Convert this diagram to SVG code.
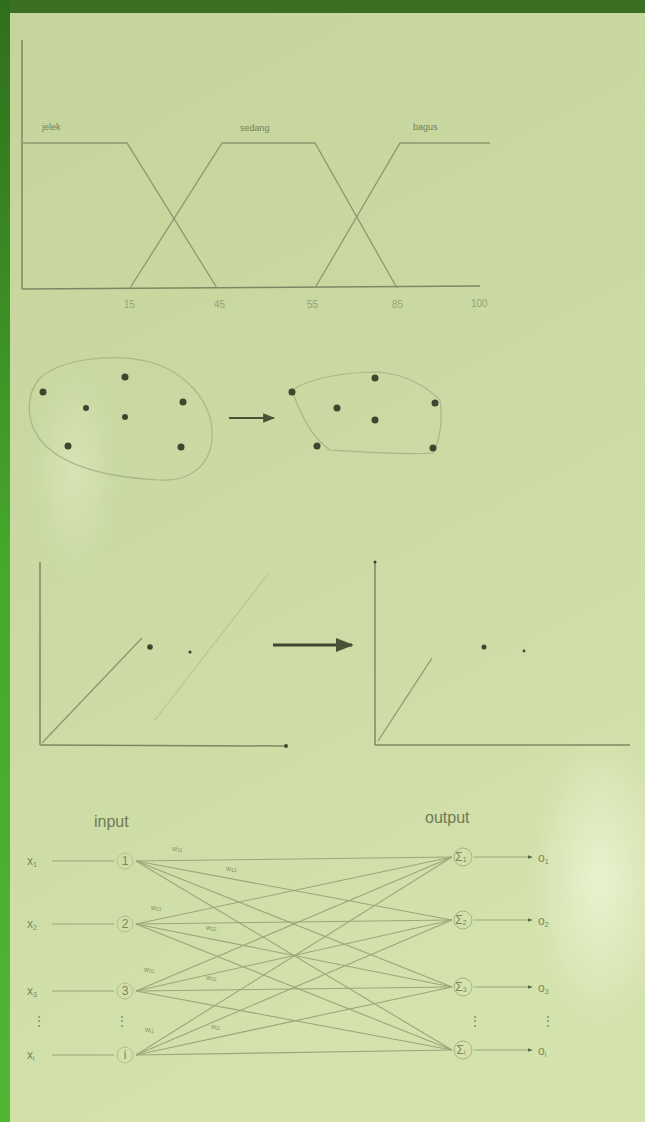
<svg xmlns="http://www.w3.org/2000/svg" width="645" height="1122" viewBox="0 0 645 1122">
<defs>
<linearGradient id="paper" x1="0" y1="0" x2="0.3" y2="1">
<stop offset="0" stop-color="#c4d49b"/>
<stop offset="0.5" stop-color="#cadaa2"/>
<stop offset="1" stop-color="#d4e2ac"/>
</linearGradient>
<radialGradient id="glare" cx="0.5" cy="0.5" r="0.5">
<stop offset="0" stop-color="#eef6d8" stop-opacity="0.8"/>
<stop offset="1" stop-color="#eef6d8" stop-opacity="0"/>
</radialGradient>
<linearGradient id="leftband" x1="0" y1="0" x2="0" y2="1">
<stop offset="0" stop-color="#2f6f1c"/>
<stop offset="0.5" stop-color="#46a82c"/>
<stop offset="1" stop-color="#52b534"/>
</linearGradient>
<marker id="tip" viewBox="0 0 10 10" refX="9" refY="5" markerWidth="6" markerHeight="6" orient="auto">
<path d="M0,1 L10,5 L0,9 Z" fill="#4a5236"/>
</marker>
<marker id="tipSmall" viewBox="0 0 10 10" refX="9" refY="5" markerWidth="4" markerHeight="4" orient="auto">
<path d="M0,1 L10,5 L0,9 Z" fill="#5a6344"/>
</marker>
</defs>
<style>
.ln{stroke:#8d9870;stroke-width:1.3;fill:none}
.ax{stroke:#7d8862;stroke-width:1.5;fill:none}
.faint{stroke:#a9b78a;stroke-width:1.2;fill:none}
.lbl{font-family:"Liberation Sans",Arial,sans-serif;fill:#757f5a;font-size:9px}
.num{font-family:"Liberation Sans",Arial,sans-serif;fill:#97a37a;font-size:10px}
.hd{font-family:"Liberation Sans",Arial,sans-serif;fill:#6f7a55;font-size:16px}
.nn{font-family:"Liberation Sans",Arial,sans-serif;fill:#7c8760;font-size:12px}
.w{font-family:"Liberation Sans",Arial,sans-serif;fill:#8a9468;font-size:7px}
.dot{fill:#3f4630}
.conn{stroke:#9aa67c;stroke-width:1.1;fill:none}
</style>
<rect x="0" y="0" width="645" height="1122" fill="url(#paper)"/>
<ellipse cx="600" cy="880" rx="70" ry="150" fill="url(#glare)"/>
<ellipse cx="75" cy="470" rx="45" ry="110" fill="url(#glare)" opacity="0.45"/>
<rect x="0" y="0" width="645" height="13" fill="#3a6e22"/>
<rect x="0" y="0" width="10" height="1122" fill="url(#leftband)"/>

<g id="fuzzy-chart">
<line class="ax" x1="22" y1="40" x2="22" y2="289"/>
<line class="ax" x1="22" y1="289" x2="480" y2="286"/>
<polyline class="ln" points="22,143 127,143 217,288"/>
<polyline class="ln" points="130,288 222,143 315,143 397,288"/>
<polyline class="ln" points="315,288 400,143 490,143"/>
<text class="lbl" x="42" y="130">jelek</text>
<text class="lbl" x="240" y="131">sedang</text>
<text class="lbl" x="413" y="130">bagus</text>
<text class="num" x="124" y="308">15</text>
<text class="num" x="214" y="308">45</text>
<text class="num" x="307" y="308">55</text>
<text class="num" x="392" y="308">85</text>
<text class="num" x="471" y="307">100</text>
</g>

<g id="cluster-before">
<path class="faint" d="M40,378 C60,360 110,352 150,362 C185,372 210,400 212,430 C214,465 190,482 160,480 C120,478 70,470 45,445 C25,425 25,395 40,378 Z"/>
<circle class="dot" cx="43" cy="392" r="3.5"/>
<circle class="dot" cx="86" cy="408" r="3"/>
<circle class="dot" cx="125" cy="377" r="3.5"/>
<circle class="dot" cx="125" cy="417" r="3"/>
<circle class="dot" cx="183" cy="402" r="3.5"/>
<circle class="dot" cx="68" cy="446" r="3.5"/>
<circle class="dot" cx="181" cy="447" r="3.5"/>
</g>
<g id="cluster-after">
<path class="faint" d="M292,390 C310,378 345,372 380,372 C405,375 425,385 440,400 C443,420 440,440 433,453 C400,455 360,452 330,450 C315,440 302,420 292,390 Z"/>
<circle class="dot" cx="292" cy="392" r="3.5"/>
<circle class="dot" cx="337" cy="408" r="3.5"/>
<circle class="dot" cx="375" cy="378" r="3.5"/>
<circle class="dot" cx="375" cy="420" r="3.5"/>
<circle class="dot" cx="435" cy="403" r="3.5"/>
<circle class="dot" cx="317" cy="446" r="3.5"/>
<circle class="dot" cx="433" cy="448" r="3.5"/>
</g>

<g id="plot-before">
<line class="ax" x1="40" y1="562" x2="40" y2="745"/>
<line class="ax" x1="40" y1="745" x2="286" y2="746"/>
<circle class="dot" cx="286" cy="746" r="2"/>
<line class="ln" x1="42" y1="743" x2="142" y2="638"/>
<line class="faint" x1="155" y1="720" x2="268" y2="574" opacity="0.6"/>
<circle class="dot" cx="150" cy="647" r="2.8"/>
<circle class="dot" cx="190" cy="652" r="1.6"/>
</g>
<g id="plot-after">
<line class="ax" x1="375" y1="562" x2="375" y2="745"/>
<circle class="dot" cx="375" cy="562" r="1.5"/>
<line class="ax" x1="375" y1="745" x2="630" y2="745"/>
<line class="ln" x1="378" y1="741" x2="432" y2="658"/>
<circle class="dot" cx="484" cy="647" r="2.5"/>
<circle class="dot" cx="524" cy="651" r="1.4"/>
</g>

<g id="connectors">
<line x1="229" y1="418" x2="274" y2="418" stroke="#4a5236" stroke-width="2" marker-end="url(#tip)"/>
<line x1="273" y1="645" x2="352" y2="645" stroke="#3f4630" stroke-width="3" marker-end="url(#tip)"/>
<line class="conn" x1="52" y1="861" x2="114" y2="861"/>
<line class="conn" x1="52" y1="924" x2="114" y2="924"/>
<line class="conn" x1="52" y1="991" x2="114" y2="991"/>
<line class="conn" x1="52" y1="1055" x2="114" y2="1055"/>
<g class="conn">
<line x1="136" y1="861" x2="452" y2="857"/>
<line x1="136" y1="861" x2="452" y2="920"/>
<line x1="136" y1="861" x2="452" y2="987"/>
<line x1="136" y1="861" x2="452" y2="1050"/>
<line x1="136" y1="924" x2="452" y2="857"/>
<line x1="136" y1="924" x2="452" y2="920"/>
<line x1="136" y1="924" x2="452" y2="987"/>
<line x1="136" y1="924" x2="452" y2="1050"/>
<line x1="136" y1="991" x2="452" y2="857"/>
<line x1="136" y1="991" x2="452" y2="920"/>
<line x1="136" y1="991" x2="452" y2="987"/>
<line x1="136" y1="991" x2="452" y2="1050"/>
<line x1="136" y1="1055" x2="452" y2="857"/>
<line x1="136" y1="1055" x2="452" y2="920"/>
<line x1="136" y1="1055" x2="452" y2="987"/>
<line x1="136" y1="1055" x2="452" y2="1050"/>
</g>
<line class="conn" x1="474" y1="857" x2="532" y2="857" marker-end="url(#tipSmall)"/>
<line class="conn" x1="474" y1="920" x2="532" y2="920" marker-end="url(#tipSmall)"/>
<line class="conn" x1="474" y1="987" x2="532" y2="987" marker-end="url(#tipSmall)"/>
<line class="conn" x1="474" y1="1050" x2="532" y2="1050" marker-end="url(#tipSmall)"/>
<text class="w" x="172" y="851">w<tspan font-size="5" dy="1">11</tspan></text>
<text class="w" x="226" y="871">w<tspan font-size="5" dy="1">12</tspan></text>
<text class="w" x="151" y="910">w<tspan font-size="5" dy="1">21</tspan></text>
<text class="w" x="206" y="930">w<tspan font-size="5" dy="1">22</tspan></text>
<text class="w" x="144" y="972">w<tspan font-size="5" dy="1">31</tspan></text>
<text class="w" x="206" y="980">w<tspan font-size="5" dy="1">32</tspan></text>
<text class="w" x="145" y="1032">w<tspan font-size="5" dy="1">i1</tspan></text>
<text class="w" x="211" y="1029">w<tspan font-size="5" dy="1">i2</tspan></text>
</g>

<text class="hd" x="94" y="827">input</text>
<text class="hd" x="425" y="823">output</text>

<g id="x1"><text class="nn" x="27" y="865">x<tspan font-size="7" dy="2">1</tspan></text></g>
<g id="x2"><text class="nn" x="27" y="928">x<tspan font-size="7" dy="2">2</tspan></text></g>
<g id="x3"><text class="nn" x="27" y="995">x<tspan font-size="7" dy="2">3</tspan></text></g>
<g id="xi"><text class="nn" x="27" y="1059">x<tspan font-size="7" dy="2">i</tspan></text></g>
<text class="nn" x="33" y="1025" font-size="10">⋮</text>

<g id="in1"><circle cx="125" cy="861" r="8" fill="none" stroke="#b3bf95" stroke-width="1"/><text class="nn" x="125" y="865" text-anchor="middle" font-size="11">1</text></g>
<g id="in2"><circle cx="125" cy="924" r="8" fill="none" stroke="#b3bf95" stroke-width="1"/><text class="nn" x="125" y="928" text-anchor="middle" font-size="11">2</text></g>
<g id="in3"><circle cx="125" cy="991" r="8" fill="none" stroke="#b3bf95" stroke-width="1"/><text class="nn" x="125" y="995" text-anchor="middle" font-size="11">3</text></g>
<g id="ini"><circle cx="125" cy="1055" r="8" fill="none" stroke="#b3bf95" stroke-width="1"/><text class="nn" x="125" y="1059" text-anchor="middle" font-size="11">i</text></g>
<text class="nn" x="122" y="1025" font-size="10" text-anchor="middle">⋮</text>

<g id="out1"><circle cx="463" cy="857" r="9" fill="none" stroke="#a5b286" stroke-width="1"/><text class="nn" x="461" y="861" text-anchor="middle" fill="#4f5839">Σ<tspan font-size="7" dy="1">1</tspan></text></g>
<g id="out2"><circle cx="463" cy="920" r="9" fill="none" stroke="#a5b286" stroke-width="1"/><text class="nn" x="461" y="924" text-anchor="middle" fill="#4f5839">Σ<tspan font-size="7" dy="1">2</tspan></text></g>
<g id="out3"><circle cx="463" cy="987" r="9" fill="none" stroke="#a5b286" stroke-width="1"/><text class="nn" x="461" y="991" text-anchor="middle" fill="#4f5839">Σ<tspan font-size="7" dy="1">3</tspan></text></g>
<g id="outi"><circle cx="463" cy="1050" r="9" fill="none" stroke="#a5b286" stroke-width="1"/><text class="nn" x="461" y="1054" text-anchor="middle" fill="#4f5839">Σ<tspan font-size="7" dy="1">i</tspan></text></g>
<text class="nn" x="475" y="1025" font-size="10" text-anchor="middle">⋮</text>

<g id="o1"><text class="nn" x="538" y="862" fill="#56603f">o<tspan font-size="7" dy="2">1</tspan></text></g>
<g id="o2"><text class="nn" x="538" y="925" fill="#56603f">o<tspan font-size="7" dy="2">2</tspan></text></g>
<g id="o3"><text class="nn" x="538" y="992" fill="#56603f">o<tspan font-size="7" dy="2">3</tspan></text></g>
<g id="oi"><text class="nn" x="538" y="1055" fill="#56603f">o<tspan font-size="7" dy="2">i</tspan></text></g>
<text class="nn" x="548" y="1025" font-size="10" text-anchor="middle">⋮</text>
</svg>
